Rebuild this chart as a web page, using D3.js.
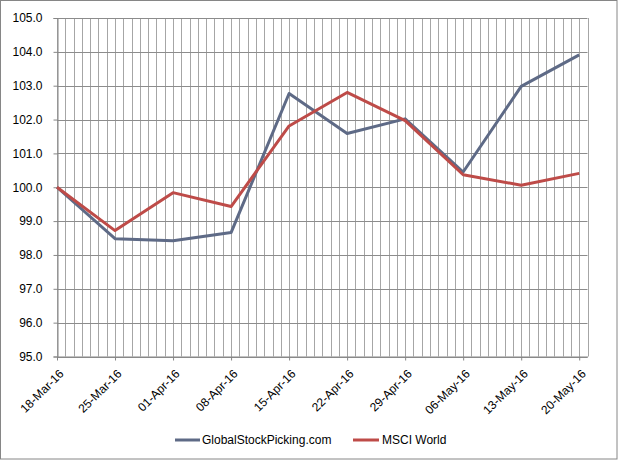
<!DOCTYPE html>
<html><head><meta charset="utf-8">
<script src="https://cdn.jsdelivr.net/npm/d3@7"></script>
<style>body{margin:0;background:#fff}svg{display:block}</style>
</head><body>
<svg id="c" width="618" height="461"></svg>
<script>
const dates = ["18-Mar-16","25-Mar-16","01-Apr-16","08-Apr-16","15-Apr-16","22-Apr-16","29-Apr-16","06-May-16","13-May-16","20-May-16"];
const gspValues = [100.0, 98.48, 98.42, 98.66, 102.77, 101.59, 102.02, 100.45, 102.98, 103.91];
const msciValues = [100.0, 98.72, 99.84, 99.43, 101.81, 102.80, 101.97, 100.37, 100.06, 100.41];
const yTicks = [95,96,97,98,99,100,101,102,103,104,105];
const seriesNames = ["GlobalStockPicking.com","MSCI World"];
const colors = ["#5E6A86","#BE4B48"];

const parse = d3.utcParse("%d-%b-%y");
const fmt = d3.utcFormat("%d-%b-%y");
const dts = dates.map(parse);
const svg = d3.select("#c");
const font = "Liberation Sans, Arial, sans-serif";

svg.append("rect").attr("x",0.5).attr("y",0.5).attr("width",616.5).attr("height",458.5)
  .attr("fill","#fff").attr("stroke","#868686").attr("stroke-width",1);

const L=57, R=587.5, T=18, B=356.5;
const x = d3.scaleUtc().domain([dts[0], d3.utcDay.offset(dts[dts.length-1],1)]).range([L,R]);
const y = d3.scaleLinear().domain([95,105]).range([B,T]);

// vertical daily gridlines
const days = d3.utcDay.range(dts[0], d3.utcDay.offset(dts[dts.length-1],2));
svg.append("g").selectAll("line").data(days).join("line")
  .attr("x1",d=>Math.round(x(d))+0.5).attr("x2",d=>Math.round(x(d))+0.5)
  .attr("y1",T).attr("y2",B).attr("stroke","#A6A6A6").attr("stroke-width",1);
// horizontal gridlines
svg.append("g").selectAll("line").data(yTicks).join("line")
  .attr("x1",L).attr("x2",R)
  .attr("y1",d=>Math.round(y(d))+0.5).attr("y2",d=>Math.round(y(d))+0.5)
  .attr("stroke","#8C8C8C").attr("stroke-width",1);

// y axis
const ya = svg.append("g").attr("transform",`translate(${L+0.5},0)`)
  .call(d3.axisLeft(y).tickValues(yTicks).tickFormat(d3.format(".1f")).tickSize(4).tickPadding(11));
ya.select(".domain").attr("stroke","#868686");
ya.selectAll(".tick line").attr("stroke","#868686");
ya.selectAll(".tick text").attr("font-family",font).attr("font-size","12px").attr("fill","#000");

// x axis
const xa = svg.append("g").attr("transform",`translate(0,${B})`)
  .call(d3.axisBottom(x).tickValues(dts).tickFormat(fmt).tickSize(4).tickSizeOuter(0));
xa.select(".domain").attr("stroke","#868686");
xa.selectAll(".tick line").attr("stroke","#868686");
xa.selectAll(".tick text").attr("font-family",font).attr("font-size","12px").attr("fill","#000")
  .attr("text-anchor","end").attr("transform","translate(4,15) rotate(-45)").attr("dy","0.35em").attr("y",0).attr("x",0);

// lines
const line = d3.line().x((d,i)=>x(dts[i])).y(d=>y(d));
[gspValues, msciValues].forEach((vals,k)=>{
  svg.append("path").datum(vals).attr("d",line).attr("fill","none")
    .attr("stroke",colors[k]).attr("stroke-width",3).attr("stroke-linejoin","round");
});

// legend
const leg = [{x1:175,x2:200,tx:202},{x1:353,x2:379,tx:382}];
leg.forEach((l,k)=>{
  svg.append("line").attr("x1",l.x1).attr("x2",l.x2).attr("y1",440).attr("y2",440)
    .attr("stroke",colors[k]).attr("stroke-width",3);
  svg.append("text").attr("x",l.tx).attr("y",440).attr("dy","0.35em")
    .attr("font-family",font).attr("font-size","12px").attr("fill","#000").text(seriesNames[k]);
});
</script>
</body></html>
